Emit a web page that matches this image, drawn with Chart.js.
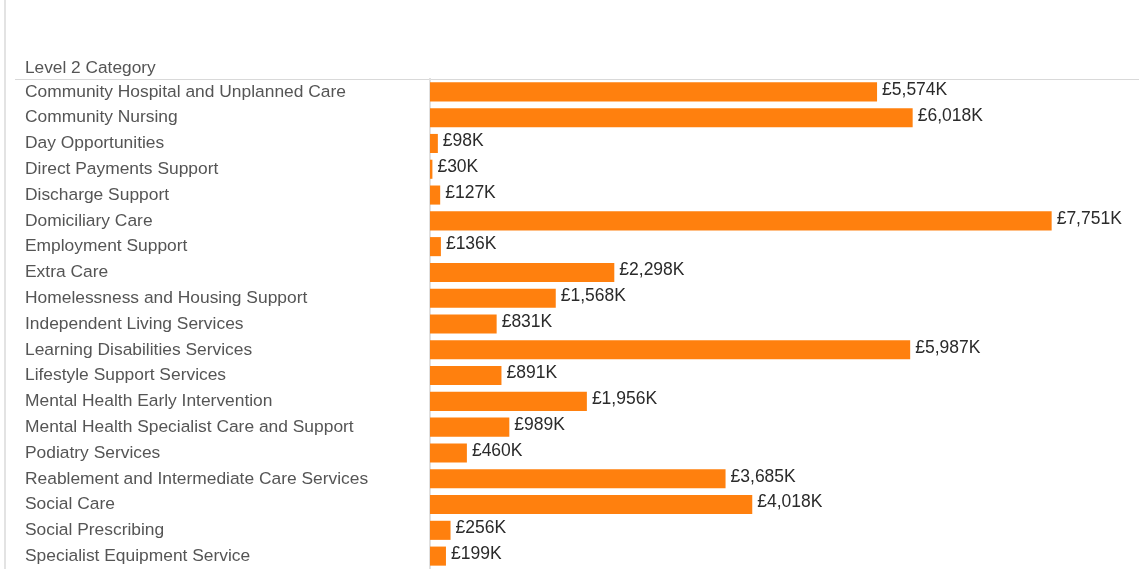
<!DOCTYPE html>
<html>
<head>
<meta charset="utf-8">
<script src="https://cdn.jsdelivr.net/npm/chart.js@4"></script>
<style>
html,body{margin:0;padding:0;background:#fff;overflow:hidden;}
#wrap{position:relative;width:1139px;height:569px;}
</style>
</head>
<body>
<div id="wrap"><canvas id="c"></canvas></div>
<script>
const headerTitle = "Level 2 Category";
const categories = [
  "Community Hospital and Unplanned Care",
  "Community Nursing",
  "Day Opportunities",
  "Direct Payments Support",
  "Discharge Support",
  "Domiciliary Care",
  "Employment Support",
  "Extra Care",
  "Homelessness and Housing Support",
  "Independent Living Services",
  "Learning Disabilities Services",
  "Lifestyle Support Services",
  "Mental Health Early Intervention",
  "Mental Health Specialist Care and Support",
  "Podiatry Services",
  "Reablement and Intermediate Care Services",
  "Social Care",
  "Social Prescribing",
  "Specialist Equipment Service"
];
const values = [5574, 6018, 98, 30, 127, 7751, 136, 2298, 1568, 831, 5987, 891, 1956, 989, 460, 3685, 4018, 256, 199];

const fmt = v => "£" + v.toLocaleString("en-GB") + "K";
const FONT = "'Liberation Sans', Arial, sans-serif";

const decor = {
  id: "decor",
  beforeDraw(chart) {
    const ctx = chart.ctx;
    ctx.save();
    ctx.strokeStyle = "#e3e3e3";
    ctx.lineWidth = 2;
    ctx.beginPath(); ctx.moveTo(5, 0); ctx.lineTo(5, 569); ctx.stroke();
    ctx.lineWidth = 1;
    ctx.strokeStyle = "#d9d9d9";
    ctx.beginPath(); ctx.moveTo(15, 79.5); ctx.lineTo(1139, 79.5); ctx.stroke();
    ctx.fillStyle = "#555";
    ctx.font = "17.3px " + FONT;
    ctx.textBaseline = "middle";
    ctx.textAlign = "left";
    ctx.fillText(headerTitle, 25, 68.5);
    ctx.restore();
  },
  afterDatasetsDraw(chart) {
    const ctx = chart.ctx;
    const meta = chart.getDatasetMeta(0);
    ctx.save();
    ctx.fillStyle = "#2a2a2a";
    ctx.font = "17.5px " + FONT;
    ctx.textBaseline = "middle";
    ctx.textAlign = "left";
    meta.data.forEach((bar, i) => {
      ctx.fillText(fmt(values[i]), bar.x + 5, bar.y - 2);
    });
    ctx.restore();
  }
};

new Chart(document.getElementById("c"), {
  type: "bar",
  data: {
    labels: categories,
    datasets: [{
      data: values,
      backgroundColor: "#ff800e",
      borderWidth: 0,
      barPercentage: 0.74,
      categoryPercentage: 1.0
    }]
  },
  options: {
    indexAxis: "y",
    responsive: true,
    maintainAspectRatio: false,
    animation: false,
    layout: { padding: { top: 79, left: 25, right: 0, bottom: 0 } },
    plugins: { legend: { display: false }, tooltip: { enabled: false } },
    scales: {
      x: { display: false, min: 0, max: 8840 },
      y: {
        grid: { display: false, drawTicks: false },
        border: { display: true, color: "#e0e0e0", width: 2 },
        ticks: {
          autoSkip: false,
          crossAlign: "far",
          color: "#555",
          font: { family: FONT, size: 17.4 },
          padding: 0
        },
        afterFit(scale) {
          scale.width = 405;
          scale.paddingTop = 0;
          scale.paddingBottom = 0;
        }
      }
    }
  },
  plugins: [decor]
});
</script>
</body>
</html>
